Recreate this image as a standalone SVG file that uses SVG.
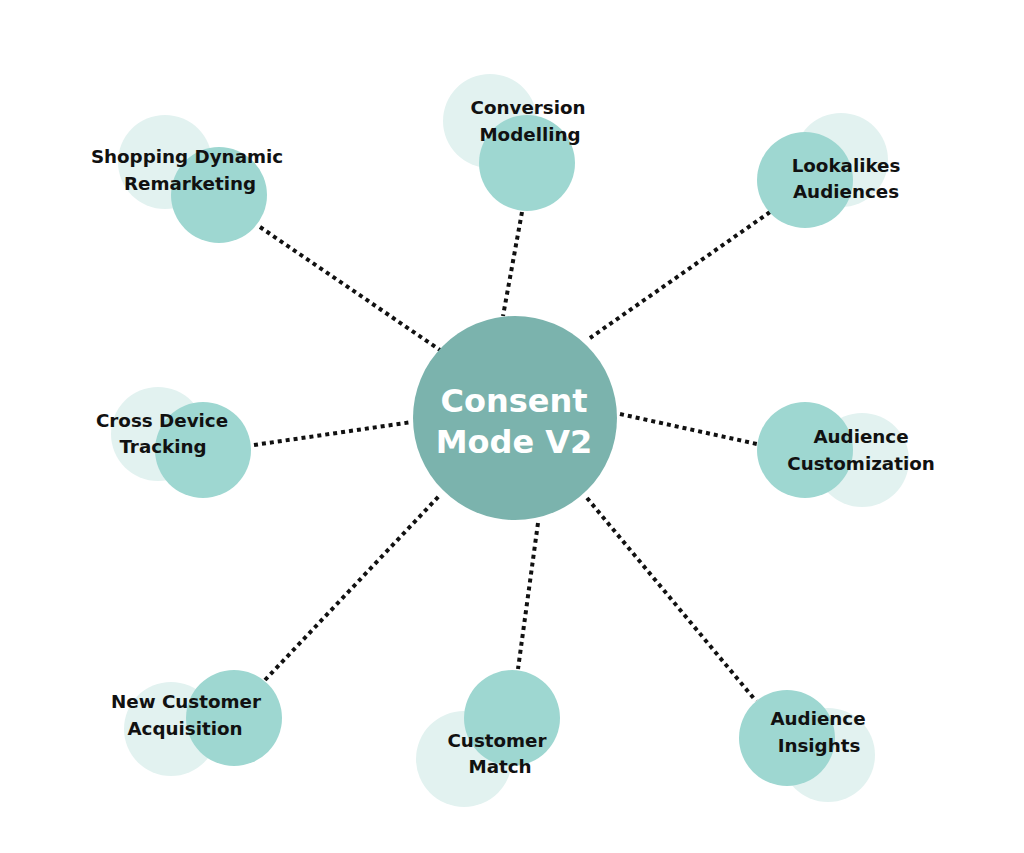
<svg xmlns="http://www.w3.org/2000/svg" width="1024" height="853" viewBox="0 0 1024 853">
<style>
.bg{fill:#ffffff}
.lt{fill:#e2f2f0}
.dk{fill:#9ed7d1}
.hub{fill:#7bb3ad}
.lbl{font-family:"DejaVu Sans","Liberation Sans",sans-serif;font-weight:bold;font-size:18.3px;fill:#111111;text-anchor:middle}
.hubt{font-family:"DejaVu Sans","Liberation Sans",sans-serif;font-weight:bold;font-size:32px;fill:#ffffff;text-anchor:middle}
.con{stroke:#111111;stroke-width:4;stroke-dasharray:4 4;fill:none}
</style>
<rect class="bg" x="0" y="0" width="1024" height="853"/>
<g id="connectors">
<line class="con" x1="260" y1="227" x2="440" y2="350"/>
<line class="con" x1="522" y1="212" x2="503" y2="316"/>
<line class="con" x1="770" y1="212" x2="590" y2="338"/>
<line class="con" x1="254" y1="445" x2="412" y2="422"/>
<line class="con" x1="620" y1="414" x2="757" y2="444"/>
<line class="con" x1="265" y1="680" x2="440" y2="495"/>
<line class="con" x1="538" y1="523" x2="518" y2="669"/>
<line class="con" x1="587" y1="498" x2="756" y2="701"/>
</g>
<g id="hub">
<circle class="hub" cx="515" cy="418" r="102"/>
<text class="hubt" x="514" y="412">Consent</text>
<text class="hubt" x="514" y="453">Mode V2</text>
</g>
<g id="shopping-dynamic-remarketing">
<circle class="lt" cx="165" cy="162" r="47"/>
<circle class="dk" cx="219" cy="195" r="48"/>
<text class="lbl" x="187" y="163">Shopping Dynamic</text>
<text class="lbl" x="190" y="190">Remarketing</text>
</g>
<g id="conversion-modelling">
<circle class="lt" cx="490" cy="121" r="47"/>
<circle class="dk" cx="527" cy="163" r="48"/>
<text class="lbl" x="528" y="114">Conversion</text>
<text class="lbl" x="530" y="141">Modelling</text>
</g>
<g id="lookalikes-audiences">
<circle class="lt" cx="841" cy="160" r="47"/>
<circle class="dk" cx="805" cy="180" r="48"/>
<text class="lbl" x="846" y="172">Lookalikes</text>
<text class="lbl" x="846" y="198">Audiences</text>
</g>
<g id="cross-device-tracking">
<circle class="lt" cx="158" cy="434" r="47"/>
<circle class="dk" cx="203" cy="450" r="48"/>
<text class="lbl" x="162" y="427">Cross Device</text>
<text class="lbl" x="163" y="453">Tracking</text>
</g>
<g id="audience-customization">
<circle class="lt" cx="862" cy="460" r="47"/>
<circle class="dk" cx="805" cy="450" r="48"/>
<text class="lbl" x="861" y="443">Audience</text>
<text class="lbl" x="861" y="470">Customization</text>
</g>
<g id="new-customer-acquisition">
<circle class="lt" cx="171" cy="729" r="47"/>
<circle class="dk" cx="234" cy="718" r="48"/>
<text class="lbl" x="186" y="708">New Customer</text>
<text class="lbl" x="185" y="735">Acquisition</text>
</g>
<g id="customer-match">
<circle class="lt" cx="464" cy="759" r="48"/>
<circle class="dk" cx="512" cy="718" r="48"/>
<text class="lbl" x="497" y="747">Customer</text>
<text class="lbl" x="500" y="773">Match</text>
</g>
<g id="audience-insights">
<circle class="lt" cx="828" cy="755" r="47"/>
<circle class="dk" cx="787" cy="738" r="48"/>
<text class="lbl" x="818" y="725">Audience</text>
<text class="lbl" x="819" y="752">Insights</text>
</g>
</svg>
